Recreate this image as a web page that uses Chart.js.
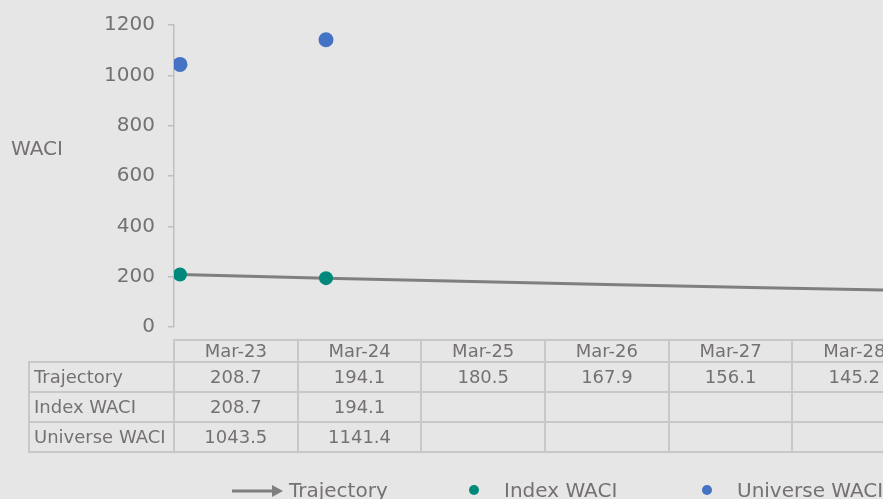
<!DOCTYPE html>
<html>
<head>
<meta charset="utf-8">
<script src="https://cdn.jsdelivr.net/npm/chart.js@4.4.1/dist/chart.umd.min.js"></script>
<style>
  html, body { margin:0; padding:0; width:883px; height:499px; overflow:hidden; background:#e6e6e6; }
  body { position:relative; font-family:"DejaVu Sans", Verdana, sans-serif; color:#757171; }
  #wrap { position:absolute; left:0; top:0; width:883px; height:499px; }
  #ytitle { position:absolute; left:11px; top:136px; font-size:20px; line-height:24px; }
  table.dt { position:absolute; left:28px; top:339px; width:887.2px; border-collapse:collapse; table-layout:fixed; font-size:18px; }
  table.dt td { border:2px solid #c8c8c8; padding:0; text-align:center; white-space:nowrap; overflow:hidden; }
  table.dt td.rh { text-align:left; padding-left:4px; }
  table.dt td.blank { border-top-color:transparent; border-left-color:transparent; }
  table.dt tr.hdr td { height:20px; line-height:20px; }
  table.dt tr.row td { height:28px; line-height:28px; }
  #legend { position:absolute; left:0; top:478px; width:883px; height:24px; font-size:20px; line-height:24px; white-space:nowrap; }
  .li { position:absolute; top:0; }
  .dot { position:absolute; top:7px; width:10px; height:10px; border-radius:50%; }
</style>
</head>
<body>
<div id="wrap"><canvas id="c" width="883" height="499"></canvas></div>
<div id="ytitle">WACI</div>
<table class="dt" id="dt"></table>
<div id="legend"></div>
<script>
const categories = ["Mar-23", "Mar-24", "Mar-25", "Mar-26", "Mar-27", "Mar-28"];
const trajectory = [208.7, 194.1, 180.5, 167.9, 156.1, 145.2];
const indexWaci = [208.7, 194.1, null, null, null, null];
const universeWaci = [1043.5, 1141.4, null, null, null, null];
const yTicks = [0, 200, 400, 600, 800, 1000, 1200];
const seriesNames = ["Trajectory", "Index WACI", "Universe WACI"];

const TEXT = "#757171";
const AXIS = "#bfbfbf";
const LINE = "#7f7f7f";
const TEAL = "#00897b";
const BLUE = "#4472c4";

const toPts = arr => arr.map((v, i) => ({ x: i, y: v })).filter(p => p.y !== null);

const xMin = -0.041;
const xMax = xMin + (883 - 174) / 146;

new Chart(document.getElementById("c"), {
  type: "line",
  data: {
    datasets: [
      { label: seriesNames[0], data: toPts(trajectory), borderColor: LINE, borderWidth: 3,
        pointRadius: 0, tension: 0, order: 3 },
      { label: seriesNames[1], data: toPts(indexWaci), showLine: false, pointRadius: 7,
        pointBackgroundColor: TEAL, pointBorderColor: TEAL, pointBorderWidth: 0, order: 1 },
      { label: seriesNames[2], data: toPts(universeWaci), showLine: false, pointRadius: 7.5,
        pointBackgroundColor: BLUE, pointBorderColor: BLUE, pointBorderWidth: 0, order: 1 }
    ]
  },
  options: {
    responsive: false,
    animation: false,
    events: [],
    layout: { autoPadding: false, padding: { left: 0, right: 0, top: 23, bottom: 172 } },
    plugins: { legend: { display: false }, tooltip: { enabled: false } },
    scales: {
      x: { type: "linear", min: xMin, max: xMax, display: false },
      y: {
        min: 0, max: 1200,
        afterBuildTicks: s => { s.ticks = yTicks.map(v => ({ value: v })); },
        afterFit: s => { s.width = 174; },
        border: { display: true, color: AXIS, width: 1.5 },
        grid: { drawOnChartArea: false, drawTicks: true, tickLength: 6, color: AXIS, lineWidth: 1.5 },
        ticks: { color: TEXT, padding: 13, font: { family: "DejaVu Sans", size: 20 },
                 callback: v => String(v) }
      }
    }
  }
});

// data table built from the arrays
const tbl = document.getElementById("dt");
const colg = document.createElement("colgroup");
let col = document.createElement("col"); col.style.width = "145px"; colg.appendChild(col);
categories.forEach(() => { const c = document.createElement("col"); c.style.width = "123.7px"; colg.appendChild(c); });
tbl.appendChild(colg);
const hdr = document.createElement("tr"); hdr.className = "hdr";
let td = document.createElement("td"); td.className = "blank"; hdr.appendChild(td);
categories.forEach(c => { const d = document.createElement("td"); d.textContent = c; hdr.appendChild(d); });
tbl.appendChild(hdr);
[trajectory, indexWaci, universeWaci].forEach((arr, k) => {
  const tr = document.createElement("tr"); tr.className = "row";
  const h = document.createElement("td"); h.className = "rh"; h.textContent = seriesNames[k]; tr.appendChild(h);
  arr.forEach(v => { const d = document.createElement("td"); d.textContent = v === null ? "" : v.toFixed(1); tr.appendChild(d); });
  tbl.appendChild(tr);
});

// legend
const lg = document.getElementById("legend");
lg.innerHTML =
  '<svg style="position:absolute;left:232px;top:6px" width="52" height="14"><line x1="0" y1="7" x2="42" y2="7" stroke="' + LINE + '" stroke-width="3"/><polygon points="40,1 51,7 40,13" fill="' + LINE + '"/></svg>' +
  '<span class="li" style="left:289px">' + seriesNames[0] + '</span>' +
  '<span class="dot" style="left:469px;background:' + TEAL + '"></span>' +
  '<span class="li" style="left:504px">' + seriesNames[1] + '</span>' +
  '<span class="dot" style="left:702px;background:' + BLUE + '"></span>' +
  '<span class="li" style="left:737px">' + seriesNames[2] + '</span>';
</script>
</body>
</html>
